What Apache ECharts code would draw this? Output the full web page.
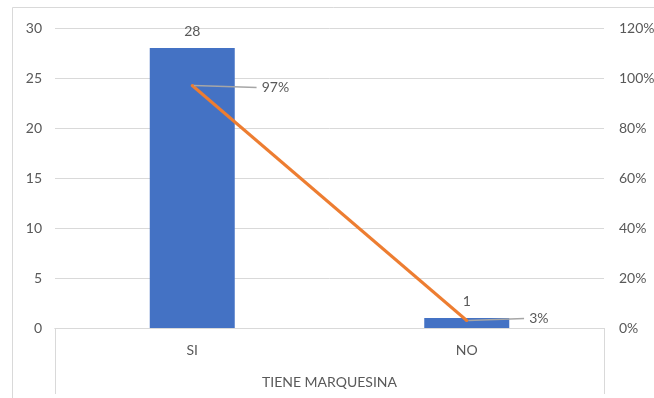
<!DOCTYPE html>
<html>
<head>
<meta charset="utf-8">
<script src="https://cdn.jsdelivr.net/npm/echarts@6/dist/echarts.min.js"></script>
<style>
  html, body { margin: 0; padding: 0; background: #fff; }
  #chart { width: 654px; height: 398px; }
</style>
</head>
<body>
<div id="chart"></div>
<script>
// Survey answers: does the property have an awning?
const categories = ['SI', 'NO'];
const groupLabel = ['TIENE MARQUESINA'];
const counts = [28, 1];
const shares = [0.97, 0.03];

const textColor = '#595959';
const gridColor = '#d9d9d9';
const font = 'Lato, "Liberation Sans", sans-serif';
const fs = 14;

const chart = echarts.init(document.getElementById('chart'), null, { renderer: 'canvas' });

chart.setOption({
  animation: false,
  backgroundColor: '#fff',
  textStyle: { fontFamily: font },
  graphic: [{
    type: 'rect',
    shape: { x: 12.5, y: 7.5, width: 700, height: 500 },
    style: { fill: 'none', stroke: gridColor, lineWidth: 1 },
    silent: true,
    z: -10
  }],
  grid: { left: 55, right: 50, top: 28, bottom: 70, outerBoundsMode: 'none', containLabel: false },
  xAxis: [{
    type: 'category',
    data: categories,
    position: 'bottom',
    axisLine: { show: true, lineStyle: { color: gridColor } },
    axisTick: { show: false },
    axisLabel: { color: textColor, fontSize: fs, margin: 15, fontFamily: font }
  }, {
    type: 'category',
    data: groupLabel,
    position: 'bottom',
    axisLine: { show: true, lineStyle: { color: gridColor } },
    axisTick: { show: true, length: 66, lineStyle: { color: gridColor } },
    axisLabel: { color: textColor, fontSize: fs, margin: 47, fontFamily: font }
  }],
  yAxis: [{
    type: 'value',
    min: 0, max: 30, interval: 5,
    axisLine: { show: false },
    axisTick: { show: false },
    splitLine: { lineStyle: { color: gridColor } },
    axisLabel: { color: textColor, fontSize: fs, margin: 13, fontFamily: font }
  }, {
    type: 'value',
    min: 0, max: 1.2, interval: 0.2,
    position: 'right',
    axisLine: { show: false },
    axisTick: { show: false },
    splitLine: { show: false },
    axisLabel: {
      color: textColor, fontSize: fs, margin: 15, fontFamily: font,
      formatter: v => Math.round(v * 100) + '%'
    }
  }],
  series: [{
    type: 'bar',
    data: counts,
    xAxisIndex: 0,
    yAxisIndex: 0,
    barWidth: 85,
    itemStyle: { color: '#4472C4' },
    label: {
      show: true, position: 'top', distance: 10,
      color: textColor, fontSize: fs, fontFamily: font
    }
  }, {
    type: 'line',
    data: shares,
    xAxisIndex: 0,
    yAxisIndex: 1,
    symbol: 'circle',
    symbolSize: 3,
    itemStyle: { color: '#ED7D31' },
    lineStyle: { color: '#ED7D31', width: 3 },
    z: 5,
    label: {
      show: true, position: 'right', distance: 4,
      padding: [0, 0, 0, 5],
      backgroundColor: '#fff',
      color: textColor, fontSize: fs, fontFamily: font,
      formatter: p => Math.round(p.value * 100) + '%'
    },
    labelLayout: p => (p.dataIndex === 0 ? { dx: 59, dy: 2 } : { dx: 52, dy: -2 }),
    labelLine: { show: true, lineStyle: { color: '#a6a6a6', width: 1.5 } }
  }]
});
</script>
</body>
</html>
